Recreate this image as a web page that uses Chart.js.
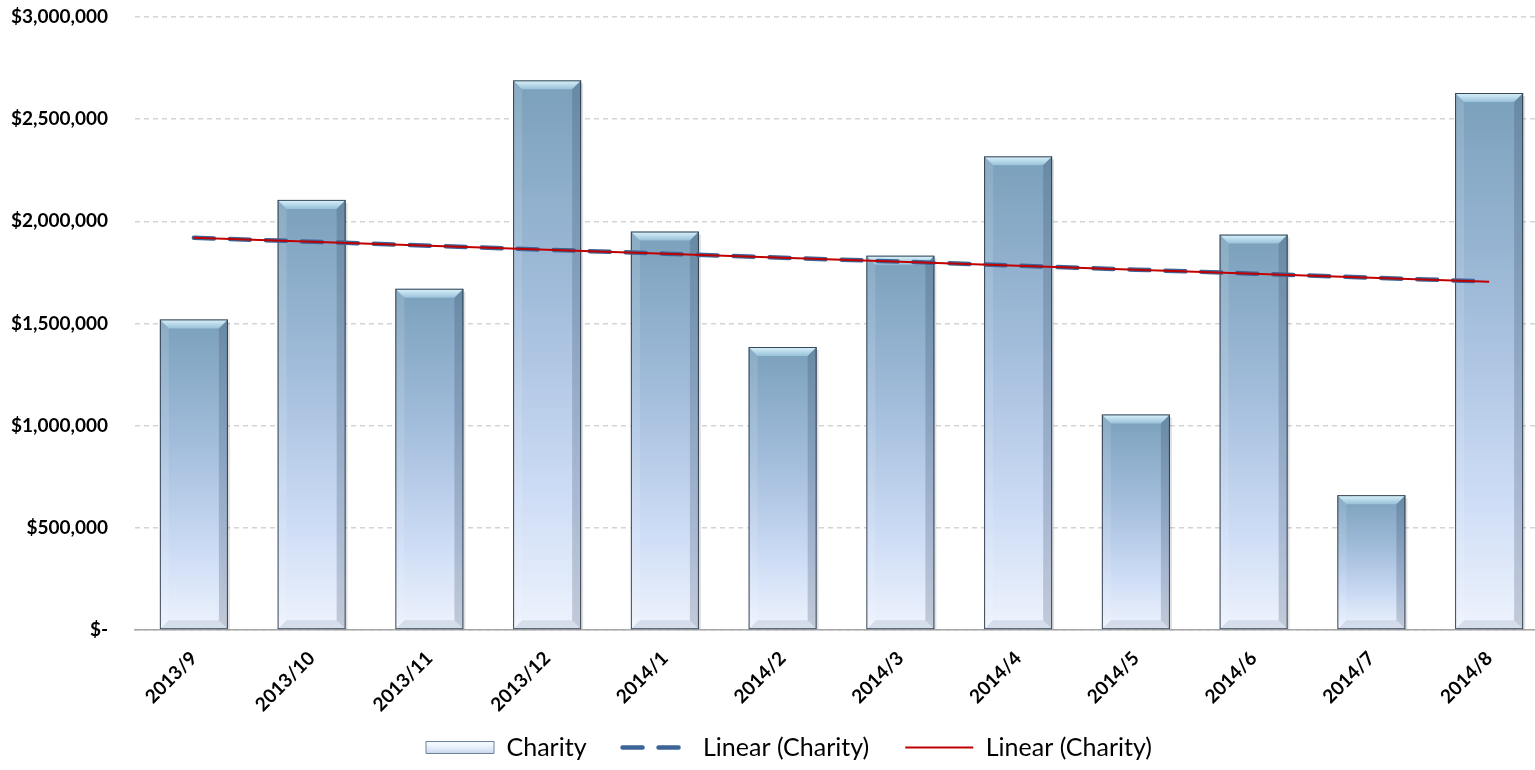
<!DOCTYPE html>
<html>
<head>
<meta charset="utf-8">
<title>Charity</title>
<script src="https://cdn.jsdelivr.net/npm/chart.js@4.4.1/dist/chart.umd.min.js"></script>
<style>
    html, body { margin: 0; padding: 0; background: #fff; overflow: hidden; }
    #wrap { position: relative; width: 1548px; height: 770px; }
</style>
</head>
<body>
<div id="wrap"><canvas id="graficoCharity"></canvas></div>
<script>
// Dados mensais
const months = ["2013/9", "2013/10", "2013/11", "2013/12", "2014/1", "2014/2",
                "2014/3", "2014/4", "2014/5", "2014/6", "2014/7", "2014/8"];
const charity = [1520000, 2105000, 1670000, 2690000, 1950000, 1385000,
                 1832000, 2318000, 1055000, 1935000, 660000, 2628000];
const yTicks = [0, 500000, 1000000, 1500000, 2000000, 2500000, 3000000];
const legendLabels = ["Charity", "Linear (Charity)", "Linear (Charity)"];

// Tendência linear (mínimos quadrados)
function linearTrend(values) {
    const n = values.length;
    const mx = (n - 1) / 2;
    const my = values.reduce((a, b) => a + b, 0) / n;
    let num = 0, den = 0;
    values.forEach((v, i) => { num += (i - mx) * (v - my); den += (i - mx) * (i - mx); });
    const slope = num / den;
    return values.map((v, i) => my + slope * (i - mx));
}
const trend = linearTrend(charity);

const FONT = "Lato";

function barGradient(context) {
    const chart = context.chart;
    const { ctx, chartArea, scales } = chart;
    if (!chartArea || context.type !== "data") return "#a9c3e0";
    const top = scales.y.getPixelForValue(context.raw);
    const base = scales.y.getPixelForValue(0);
    if (!isFinite(top) || top >= base) return "#a9c3e0";
    const g = ctx.createLinearGradient(0, top, 0, base);
    g.addColorStop(0, "#7aa0bb");
    g.addColorStop(0.4, "#a2bddb");
    g.addColorStop(0.75, "#cddcf5");
    g.addColorStop(1, "#eef3fd");
    return g;
}

// Efeito de chanfro nas barras
const bevelPlugin = {
    id: "bevel",
    afterDatasetDraw(chart, args) {
        if (args.index !== 0) return;
        const ctx = chart.ctx;
        args.meta.data.forEach(bar => {
            const x0 = bar.x - bar.width / 2, x1 = bar.x + bar.width / 2;
            const y0 = bar.y, y1 = bar.base;
            const b = 9;
            ctx.save();
            // sombra à direita
            ctx.fillStyle = "rgba(0,0,0,0.12)";
            ctx.fillRect(x1, y0 + 3, 2, y1 - y0 - 3);
            // topo
            let g = ctx.createLinearGradient(0, y0, 0, y0 + b);
            g.addColorStop(0, "#dcf3fc");
            g.addColorStop(1, "#98c1d8");
            ctx.fillStyle = g;
            ctx.beginPath();
            ctx.moveTo(x0, y0); ctx.lineTo(x1, y0);
            ctx.lineTo(x1 - b, y0 + b); ctx.lineTo(x0 + b, y0 + b);
            ctx.closePath(); ctx.fill();
            // lateral direita
            ctx.fillStyle = "rgba(40,60,85,0.22)";
            ctx.beginPath();
            ctx.moveTo(x1, y0); ctx.lineTo(x1, y1);
            ctx.lineTo(x1 - b, y1 - b); ctx.lineTo(x1 - b, y0 + b);
            ctx.closePath(); ctx.fill();
            // lateral esquerda
            ctx.fillStyle = "rgba(255,255,255,0.12)";
            ctx.beginPath();
            ctx.moveTo(x0, y0); ctx.lineTo(x0 + b, y0 + b);
            ctx.lineTo(x0 + b, y1 - b); ctx.lineTo(x0, y1);
            ctx.closePath(); ctx.fill();
            // base
            ctx.fillStyle = "rgba(90,110,140,0.15)";
            ctx.beginPath();
            ctx.moveTo(x0, y1); ctx.lineTo(x1, y1);
            ctx.lineTo(x1 - b, y1 - b); ctx.lineTo(x0 + b, y1 - b);
            ctx.closePath(); ctx.fill();
            // contorno
            ctx.strokeStyle = "rgba(38,52,68,0.9)";
            ctx.lineWidth = 1;
            ctx.strokeRect(x0 + 0.5, y0 + 0.5, bar.width - 1, y1 - y0 - 1);
            ctx.restore();
        });
    }
};

// Legenda um pouco deslocada para a direita
const legendShift = {
    id: "legendShift",
    afterLayout(chart) {
        if (!chart.legend) return;
        chart.legend.left += 15;
        chart.legend.right += 15;
    }
};

new Chart(document.getElementById("graficoCharity"), {
    type: "bar",
    data: {
        labels: months,
        datasets: [
            {
                label: legendLabels[0],
                data: charity,
                backgroundColor: barGradient,
                borderWidth: 0,
                categoryPercentage: 1,
                barPercentage: 0.578,
                order: 3
            },
            {
                type: "line",
                label: legendLabels[1],
                data: trend,
                borderColor: "#3c6497",
                borderWidth: 4.5,
                borderDash: [20, 16],
                borderCapStyle: "round",
                pointRadius: 0,
                fill: false,
                order: 2
            },
            {
                type: "line",
                label: legendLabels[2],
                data: trend,
                borderColor: "#c00000",
                borderWidth: 2,
                pointRadius: 0,
                fill: false,
                order: 1
            }
        ]
    },
    options: {
        responsive: true,
        maintainAspectRatio: false,
        animation: false,
        layout: { padding: 0 },
        scales: {
            x: {
                grid: { display: false, drawTicks: false },
                border: { display: true, color: "#a6a6a6", width: 1.5 },
                ticks: {
                    color: "#000",
                    font: { family: FONT, size: 19, weight: "bold" },
                    minRotation: 45,
                    maxRotation: 45,
                    padding: 17
                },
                afterFit(scale) {
                    scale.height = 69;
                    // rótulos inclinados podem passar da caixa do eixo
                    scale._computeLabelArea = () => undefined;
                }
            },
            y: {
                min: 0,
                max: 3000000,
                afterBuildTicks(scale) { scale.ticks = yTicks.map(v => ({ value: v })); },
                grid: { color: "#d4d4d4", lineWidth: 1.5, drawTicks: false },
                border: { display: false, dash: [5, 4] },
                ticks: {
                    color: "#000",
                    font: { family: FONT, size: 19, weight: "bold" },
                    padding: 27,
                    callback: v => v === 0 ? "$-" : "$" + v.toLocaleString("en-US")
                },
                afterFit(scale) {
                    scale.width = 135;
                    scale.paddingTop = 17;
                    scale.paddingBottom = 0;
                }
            }
        },
        plugins: {
            legend: {
                position: "bottom",
                maxHeight: 71,
                labels: {
                    color: "#000",
                    font: { family: FONT, size: 25 },
                    usePointStyle: true,
                    pointStyleWidth: 68,
                    boxHeight: 12,
                    padding: 36,
                    generateLabels(chart) {
                        const cy = chart.height - 19;
                        const box = chart.ctx.createLinearGradient(0, cy - 6, 0, cy + 6);
                        box.addColorStop(0, "#f2f6fd");
                        box.addColorStop(0.5, "#d6e2f4");
                        box.addColorStop(1, "#a9bdd6");
                        return [
                            { text: legendLabels[0], pointStyle: "rect", fillStyle: box,
                              strokeStyle: "#6f8299", lineWidth: 1, datasetIndex: 0 },
                            { text: legendLabels[1], pointStyle: "line", strokeStyle: "#3c6497",
                              lineWidth: 4.5, lineDash: [20, 16], lineCap: "round", datasetIndex: 1 },
                            { text: legendLabels[2], pointStyle: "line", strokeStyle: "#c00000",
                              lineWidth: 2, datasetIndex: 2 }
                        ];
                    }
                }
            },
            tooltip: { enabled: false }
        }
    },
    plugins: [bevelPlugin, legendShift]
});
</script>
</body>
</html>
